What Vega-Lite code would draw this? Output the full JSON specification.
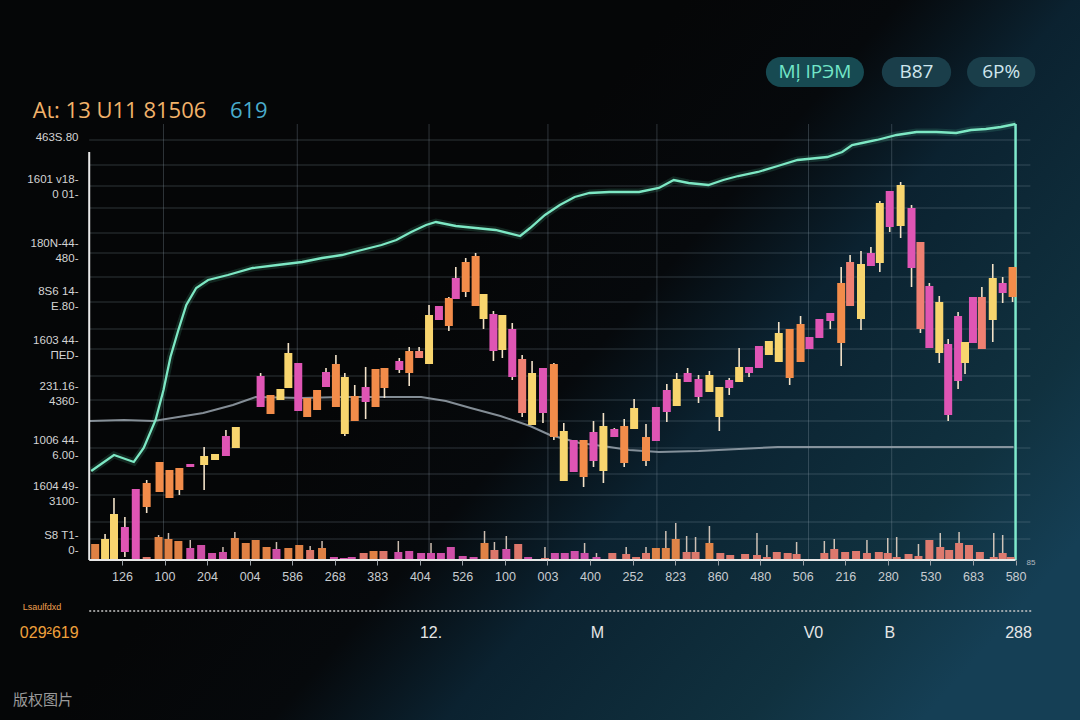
{
  "$schema": "https://vega.github.io/schema/vega-lite/v6.json",
  "width": 1080,
  "height": 720,
  "autosize": "none",
  "padding": 0,
  "background": "#050607",
  "config": {
    "view": {
      "stroke": null,
      "fill": {"gradient": "linear", "x1": 0.4, "y1": 0.4, "x2": 1, "y2": 0.75,
        "stops": [
          {"offset": 0, "color": "#050607"},
          {"offset": 0.25, "color": "#06090c"},
          {"offset": 0.45, "color": "#0b2230"},
          {"offset": 0.8, "color": "#10313f"},
          {"offset": 1, "color": "#153f55"}
        ]}
    },
    "font": "Liberation Sans"
  },
  "datasets": {
    "candles": [
      {"t":1.6,"open":0,"close":21,"high":26,"low":0,"tone":"Y"},
      {"t":2.5,"open":0,"close":46,"high":62,"low":0,"tone":"Y"},
      {"t":3.6,"open":33,"close":8,"high":43,"low":3,"tone":"P"},
      {"t":4.7,"open":71,"close":0,"high":71,"low":0,"tone":"P"},
      {"t":5.8,"open":53,"close":77,"high":80,"low":47,"tone":"O"},
      {"t":7.1,"open":68,"close":98,"high":98,"low":68,"tone":"O"},
      {"t":8.1,"open":62,"close":90,"high":90,"low":62,"tone":"O"},
      {"t":9.1,"open":70,"close":92,"high":92,"low":65,"tone":"O"},
      {"t":10.2,"open":96,"close":93,"high":96,"low":93,"tone":"P"},
      {"t":11.6,"open":95,"close":104,"high":113,"low":70,"tone":"Y"},
      {"t":12.7,"open":100,"close":106,"high":106,"low":100,"tone":"Y"},
      {"t":13.8,"open":124,"close":104,"high":130,"low":104,"tone":"P"},
      {"t":14.8,"open":112,"close":133,"high":133,"low":112,"tone":"Y"},
      {"t":17.3,"open":184,"close":153,"high":187,"low":153,"tone":"P"},
      {"t":18.3,"open":146,"close":165,"high":165,"low":146,"tone":"O"},
      {"t":19.3,"open":160,"close":171,"high":171,"low":160,"tone":"Y"},
      {"t":20.1,"open":172,"close":207,"high":217,"low":172,"tone":"Y"},
      {"t":21.1,"open":197,"close":149,"high":197,"low":149,"tone":"P"},
      {"t":22.0,"open":143,"close":162,"high":162,"low":143,"tone":"O"},
      {"t":23.0,"open":150,"close":170,"high":170,"low":150,"tone":"O"},
      {"t":23.9,"open":188,"close":173,"high":192,"low":173,"tone":"P"},
      {"t":24.9,"open":153,"close":196,"high":205,"low":153,"tone":"O"},
      {"t":25.8,"open":126,"close":183,"high":187,"low":124,"tone":"Y"},
      {"t":26.8,"open":139,"close":164,"high":175,"low":139,"tone":"O"},
      {"t":27.9,"open":173,"close":158,"high":193,"low":141,"tone":"P"},
      {"t":28.9,"open":153,"close":191,"high":191,"low":153,"tone":"O"},
      {"t":29.8,"open":172,"close":192,"high":192,"low":162,"tone":"O"},
      {"t":31.3,"open":199,"close":190,"high":202,"low":187,"tone":"P"},
      {"t":32.3,"open":187,"close":209,"high":213,"low":174,"tone":"O"},
      {"t":33.3,"open":202,"close":209,"high":213,"low":202,"tone":"S"},
      {"t":34.3,"open":196,"close":245,"high":255,"low":196,"tone":"Y"},
      {"t":35.3,"open":254,"close":240,"high":254,"low":240,"tone":"P"},
      {"t":36.3,"open":234,"close":262,"high":263,"low":229,"tone":"O"},
      {"t":37.0,"open":282,"close":261,"high":293,"low":261,"tone":"P"},
      {"t":38.0,"open":268,"close":298,"high":302,"low":263,"tone":"O"},
      {"t":39.0,"open":254,"close":304,"high":307,"low":254,"tone":"O"},
      {"t":39.8,"open":241,"close":266,"high":266,"low":231,"tone":"Y"},
      {"t":40.8,"open":246,"close":209,"high":249,"low":199,"tone":"P"},
      {"t":41.7,"open":210,"close":245,"high":245,"low":202,"tone":"Y"},
      {"t":42.7,"open":231,"close":183,"high":237,"low":180,"tone":"P"},
      {"t":43.7,"open":201,"close":147,"high":205,"low":143,"tone":"S"},
      {"t":44.7,"open":135,"close":187,"high":199,"low":135,"tone":"Y"},
      {"t":45.8,"open":192,"close":147,"high":192,"low":137,"tone":"P"},
      {"t":46.9,"open":123,"close":196,"high":197,"low":120,"tone":"O"},
      {"t":47.9,"open":79,"close":129,"high":137,"low":79,"tone":"Y"},
      {"t":48.9,"open":120,"close":88,"high":120,"low":88,"tone":"P"},
      {"t":49.9,"open":83,"close":120,"high":120,"low":73,"tone":"O"},
      {"t":50.9,"open":128,"close":99,"high":139,"low":93,"tone":"P"},
      {"t":51.9,"open":89,"close":134,"high":147,"low":77,"tone":"Y"},
      {"t":53.0,"open":131,"close":123,"high":132,"low":123,"tone":"P"},
      {"t":54.0,"open":97,"close":134,"high":141,"low":93,"tone":"O"},
      {"t":55.0,"open":131,"close":152,"high":161,"low":131,"tone":"Y"},
      {"t":56.2,"open":99,"close":123,"high":136,"low":94,"tone":"O"},
      {"t":57.2,"open":153,"close":119,"high":153,"low":119,"tone":"P"},
      {"t":58.3,"open":170,"close":148,"high":176,"low":138,"tone":"P"},
      {"t":59.3,"open":154,"close":181,"high":187,"low":154,"tone":"Y"},
      {"t":60.4,"open":187,"close":178,"high":192,"low":178,"tone":"P"},
      {"t":61.5,"open":181,"close":163,"high":185,"low":157,"tone":"P"},
      {"t":62.6,"open":168,"close":185,"high":189,"low":168,"tone":"Y"},
      {"t":63.6,"open":143,"close":173,"high":173,"low":129,"tone":"Y"},
      {"t":64.6,"open":180,"close":172,"high":182,"low":165,"tone":"P"},
      {"t":65.6,"open":178,"close":193,"high":212,"low":178,"tone":"Y"},
      {"t":66.6,"open":193,"close":187,"high":193,"low":183,"tone":"P"},
      {"t":67.6,"open":214,"close":192,"high":214,"low":192,"tone":"P"},
      {"t":68.6,"open":205,"close":219,"high":219,"low":205,"tone":"Y"},
      {"t":69.6,"open":198,"close":227,"high":238,"low":198,"tone":"Y"},
      {"t":70.7,"open":182,"close":231,"high":231,"low":175,"tone":"O"},
      {"t":71.8,"open":198,"close":236,"high":244,"low":198,"tone":"O"},
      {"t":72.7,"open":223,"close":211,"high":223,"low":211,"tone":"P"},
      {"t":73.7,"open":241,"close":222,"high":241,"low":222,"tone":"P"},
      {"t":74.8,"open":247,"close":239,"high":247,"low":231,"tone":"P"},
      {"t":75.9,"open":217,"close":277,"high":293,"low":194,"tone":"O"},
      {"t":76.8,"open":254,"close":298,"high":305,"low":254,"tone":"S"},
      {"t":77.9,"open":241,"close":296,"high":309,"low":230,"tone":"Y"},
      {"t":78.9,"open":307,"close":294,"high":313,"low":294,"tone":"P"},
      {"t":79.8,"open":297,"close":357,"high":359,"low":288,"tone":"Y"},
      {"t":80.8,"open":369,"close":333,"high":369,"low":328,"tone":"P"},
      {"t":81.9,"open":334,"close":375,"high":378,"low":322,"tone":"Y"},
      {"t":83.0,"open":352,"close":292,"high":355,"low":273,"tone":"P"},
      {"t":83.9,"open":318,"close":231,"high":318,"low":227,"tone":"S"},
      {"t":84.8,"open":274,"close":212,"high":277,"low":212,"tone":"P"},
      {"t":85.8,"open":207,"close":258,"high":264,"low":197,"tone":"Y"},
      {"t":86.7,"open":216,"close":145,"high":221,"low":139,"tone":"P"},
      {"t":87.7,"open":179,"close":244,"high":248,"low":171,"tone":"P"},
      {"t":88.4,"open":218,"close":197,"high":218,"low":186,"tone":"Y"},
      {"t":89.2,"open":217,"close":263,"high":263,"low":217,"tone":"P"},
      {"t":90.1,"open":211,"close":263,"high":273,"low":211,"tone":"S"},
      {"t":91.2,"open":240,"close":282,"high":296,"low":218,"tone":"Y"},
      {"t":92.2,"open":277,"close":267,"high":283,"low":257,"tone":"P"},
      {"t":93.2,"open":263,"close":293,"high":293,"low":258,"tone":"O"}
    ],
    "volume": [
      {"t":0.6,"volume":16,"tone":"O"},
      {"t":5.8,"volume":3,"tone":"S"},
      {"t":7.0,"volume":23,"peak":25,"tone":"O"},
      {"t":8.0,"volume":21,"peak":27,"tone":"O"},
      {"t":9.0,"volume":19,"tone":"O"},
      {"t":10.2,"volume":12,"peak":20,"tone":"P"},
      {"t":11.3,"volume":15,"tone":"P"},
      {"t":12.4,"volume":7,"tone":"P"},
      {"t":13.5,"volume":8,"peak":13,"tone":"P"},
      {"t":14.7,"volume":22,"peak":28,"tone":"O"},
      {"t":15.8,"volume":17,"tone":"O"},
      {"t":16.8,"volume":20,"tone":"O"},
      {"t":17.9,"volume":13,"tone":"O"},
      {"t":18.9,"volume":11,"peak":18,"tone":"P"},
      {"t":20.1,"volume":12,"tone":"O"},
      {"t":21.2,"volume":15,"tone":"O"},
      {"t":22.3,"volume":10,"peak":14,"tone":"S"},
      {"t":23.5,"volume":12,"peak":19,"tone":"O"},
      {"t":24.7,"volume":3,"tone":"P"},
      {"t":25.7,"volume":2,"tone":"P"},
      {"t":26.5,"volume":3,"tone":"P"},
      {"t":27.7,"volume":7,"tone":"S"},
      {"t":28.7,"volume":9,"tone":"O"},
      {"t":29.7,"volume":9,"tone":"S"},
      {"t":31.2,"volume":8,"peak":19,"tone":"P"},
      {"t":32.3,"volume":9,"tone":"P"},
      {"t":33.5,"volume":7,"tone":"P"},
      {"t":34.5,"volume":7,"peak":17,"tone":"P"},
      {"t":35.5,"volume":7,"tone":"P"},
      {"t":36.5,"volume":13,"tone":"P"},
      {"t":37.7,"volume":4,"tone":"P"},
      {"t":38.8,"volume":3,"tone":"P"},
      {"t":39.9,"volume":17,"peak":29,"tone":"O"},
      {"t":40.9,"volume":10,"peak":18,"tone":"S"},
      {"t":42.1,"volume":11,"peak":24,"tone":"P"},
      {"t":43.3,"volume":16,"tone":"S"},
      {"t":44.3,"volume":3,"tone":"P"},
      {"t":46.0,"volume":2,"peak":13,"tone":"S"},
      {"t":47.0,"volume":7,"tone":"P"},
      {"t":48.0,"volume":7,"tone":"P"},
      {"t":49.0,"volume":9,"tone":"P"},
      {"t":50.0,"volume":7,"peak":17,"tone":"P"},
      {"t":51.2,"volume":3,"peak":7,"tone":"P"},
      {"t":52.8,"volume":7,"tone":"S"},
      {"t":54.2,"volume":6,"peak":13,"tone":"S"},
      {"t":55.2,"volume":3,"tone":"S"},
      {"t":56.2,"volume":7,"peak":13,"tone":"S"},
      {"t":57.2,"volume":12,"tone":"O"},
      {"t":58.2,"volume":12,"peak":29,"tone":"O"},
      {"t":59.2,"volume":21,"peak":37,"tone":"O"},
      {"t":60.3,"volume":8,"peak":24,"tone":"S"},
      {"t":61.2,"volume":8,"peak":23,"tone":"S"},
      {"t":62.6,"volume":17,"peak":34,"tone":"O"},
      {"t":63.7,"volume":7,"tone":"S"},
      {"t":64.7,"volume":5,"tone":"S"},
      {"t":66.2,"volume":6,"tone":"S"},
      {"t":67.4,"volume":5,"peak":27,"tone":"S"},
      {"t":68.4,"volume":3,"peak":15,"tone":"S"},
      {"t":69.4,"volume":8,"tone":"S"},
      {"t":70.5,"volume":7,"tone":"S"},
      {"t":71.4,"volume":6,"peak":18,"tone":"S"},
      {"t":74.2,"volume":7,"peak":19,"tone":"S"},
      {"t":75.2,"volume":11,"peak":21,"tone":"S"},
      {"t":76.3,"volume":8,"tone":"S"},
      {"t":77.4,"volume":9,"tone":"S"},
      {"t":78.5,"volume":7,"peak":20,"tone":"S"},
      {"t":79.7,"volume":8,"tone":"S"},
      {"t":80.6,"volume":7,"peak":22,"tone":"S"},
      {"t":81.5,"volume":3,"peak":23,"tone":"S"},
      {"t":82.7,"volume":6,"tone":"S"},
      {"t":83.7,"volume":4,"peak":16,"tone":"S"},
      {"t":84.8,"volume":20,"tone":"S"},
      {"t":85.9,"volume":13,"peak":27,"tone":"S"},
      {"t":86.8,"volume":10,"tone":"S"},
      {"t":87.8,"volume":17,"peak":28,"tone":"S"},
      {"t":88.8,"volume":15,"tone":"S"},
      {"t":89.9,"volume":8,"tone":"S"},
      {"t":91.3,"volume":3,"peak":27,"tone":"S"},
      {"t":92.2,"volume":7,"peak":25,"tone":"S"},
      {"t":93.0,"volume":3,"tone":"S"}
    ],
    "trend": [
      {"t":0.2,"v":89},{"t":2.5,"v":105},{"t":4.5,"v":98},{"t":5.5,"v":112},{"t":6.7,"v":140},
      {"t":7.5,"v":170},{"t":8.2,"v":203},{"t":9.0,"v":230},{"t":9.8,"v":255},{"t":10.8,"v":272},
      {"t":12.0,"v":280},{"t":14.0,"v":285},{"t":16.5,"v":292},{"t":19.0,"v":295},{"t":21.5,"v":298},
      {"t":23.5,"v":302},{"t":25.5,"v":305},{"t":27.5,"v":310},{"t":29.5,"v":315},{"t":31.0,"v":320},
      {"t":32.5,"v":328},{"t":34.0,"v":335},{"t":35.0,"v":338},{"t":37.0,"v":334},{"t":39.0,"v":332},
      {"t":41.0,"v":330},{"t":43.5,"v":324},{"t":44.5,"v":332},{"t":46.0,"v":345},{"t":47.5,"v":355},
      {"t":49.0,"v":363},{"t":50.5,"v":367},{"t":52.5,"v":368},{"t":55.5,"v":368},{"t":57.5,"v":372},
      {"t":59.0,"v":380},{"t":60.5,"v":377},{"t":62.5,"v":375},{"t":64.0,"v":380},{"t":65.5,"v":384},
      {"t":67.5,"v":388},{"t":69.5,"v":394},{"t":71.5,"v":400},{"t":74.5,"v":403},{"t":76.0,"v":408},
      {"t":77.0,"v":415},{"t":78.0,"v":417},{"t":79.5,"v":420},{"t":81.5,"v":425},{"t":83.5,"v":428},
      {"t":85.5,"v":428},{"t":87.5,"v":427},{"t":89.0,"v":430},{"t":90.5,"v":431},{"t":92.0,"v":433},
      {"t":93.5,"v":436}
    ],
    "average": [
      {"t":0,"v":139},{"t":3.5,"v":140},{"t":6.5,"v":139},{"t":11.5,"v":147},{"t":14.5,"v":155},
      {"t":16.8,"v":163},{"t":21.5,"v":162},{"t":25.5,"v":163},{"t":29.5,"v":163},{"t":33.5,"v":163},
      {"t":36.0,"v":159},{"t":38.5,"v":152},{"t":41.5,"v":144},{"t":44.5,"v":134},{"t":46.5,"v":125},
      {"t":49.5,"v":117},{"t":52.5,"v":113},{"t":54.5,"v":110},{"t":57.5,"v":108},{"t":61.5,"v":109},
      {"t":69.5,"v":113},{"t":76.5,"v":113},{"t":81.5,"v":113},{"t":93.3,"v":113}
    ],
    "hgrid": [
      {"level":420},{"level":395},{"level":374},{"level":352},{"level":327},{"level":307},
      {"level":283},{"level":258},{"level":231},{"level":211},{"level":184},{"level":160},
      {"level":139},{"level":112},{"level":86},{"level":65},{"level":38},{"level":21}
    ],
    "vgrid": [
      {"at":7.5},{"at":21},{"at":34.3},{"at":46.3},{"at":57.3},{"at":72.6},{"at":81}
    ]
  },
  "layer": [
    {
      "data": {"name": "hgrid"},
      "mark": {"type": "rule", "color": "#8fa0ab", "opacity": 0.3, "strokeWidth": 1},
      "encoding": {
        "x": {"datum": 0, "type": "quantitative", "scale": {"domain": [-8.5, 99.5], "nice": false, "zero": false},
          "axis": {"orient": "bottom", "offset": -160, "zindex": 2, "title": null, "domain": false, "grid": false,
            "ticks": true, "tickSize": 5, "tickColor": "#9aa0a6", "tickWidth": 1,
            "values": [3.3, 7.6, 11.89, 16.19, 20.48, 24.78, 29.07, 33.37, 37.66, 41.96, 46.25, 50.55, 54.84, 59.14, 63.43, 67.73, 72.02, 76.32, 80.61, 84.91, 89.2, 93.5],
            "labelExpr": "['126','100','204','004','586','268','383','404','526','100','003','400','252','823','860','480','506','216','280','530','683','580'][round((datum.value - 3.3) / 4.295)]",
            "labelColor": "#c8ccd0", "labelFontSize": 12.5, "labelPadding": 5, "labelOverlap": false, "labelFlush": false, "labelBound": false}},
        "x2": {"datum": 95},
        "y": {"field": "level", "type": "quantitative", "scale": {"domain": [-160, 560], "nice": false, "zero": false},
          "axis": {"orient": "left", "offset": -85, "zindex": 2, "title": null, "domain": false, "grid": false, "ticks": false,
            "values": [25, 74, 120, 174, 220, 269, 317, 381, 423],
            "labelExpr": "datum.value == 423 ? '463S.80' : datum.value == 381 ? ['1601 v18-', '0 01-'] : datum.value == 317 ? ['180N-44-', '480-'] : datum.value == 269 ? ['8S6 14-', 'E.80-'] : datum.value == 220 ? ['1603 44-', 'ПЕD-'] : datum.value == 174 ? ['231.16-', '4360-'] : datum.value == 120 ? ['1006 44-', '6.00-'] : datum.value == 74 ? ['1604 49-', '3100-'] : ['S8 T1-', '0-']",
            "labelColor": "#d4d4d4", "labelFontSize": 11.5, "labelPadding": 7, "labelLineHeight": 15, "labelOverlap": false, "labelBound": false, "labelFlush": false}}
      }
    },
    {
      "data": {"name": "vgrid"},
      "mark": {"type": "rule", "color": "#8fa0ab", "opacity": 0.3, "strokeWidth": 1},
      "encoding": {
        "x": {"field": "at", "type": "quantitative", "scale": {"domain": [-8.5, 99.5], "nice": false, "zero": false}},
        "y": {"datum": 0, "type": "quantitative", "scale": {"domain": [-160, 560], "nice": false, "zero": false}},
        "y2": {"datum": 436}
      }
    },
    {
      "data": {"name": "average"},
      "mark": {"type": "line", "color": "#9aa5ae", "strokeWidth": 2, "opacity": 0.85},
      "encoding": {
        "x": {"field": "t", "type": "quantitative", "scale": {"domain": [-8.5, 99.5], "nice": false, "zero": false}},
        "y": {"field": "v", "type": "quantitative", "scale": {"domain": [-160, 560], "nice": false, "zero": false}}
      }
    },
    {
      "data": {"name": "trend"},
      "mark": {"type": "line", "color": "#5fe0b0", "strokeWidth": 7, "opacity": 0.15},
      "encoding": {
        "x": {"field": "t", "type": "quantitative", "scale": {"domain": [-8.5, 99.5], "nice": false, "zero": false}},
        "y": {"field": "v", "type": "quantitative", "scale": {"domain": [-160, 560], "nice": false, "zero": false}}
      }
    },
    {
      "data": {"name": "trend"},
      "mark": {"type": "line", "color": "#7de8c4", "strokeWidth": 2.3},
      "encoding": {
        "x": {"field": "t", "type": "quantitative", "scale": {"domain": [-8.5, 99.5], "nice": false, "zero": false}},
        "y": {"field": "v", "type": "quantitative", "scale": {"domain": [-160, 560], "nice": false, "zero": false}}
      }
    },
    {
      "data": {"values": [{}]},
      "mark": {"type": "rule", "color": "#7fe9cc", "strokeWidth": 2.5},
      "encoding": {
        "x": {"datum": 93.5, "type": "quantitative", "scale": {"domain": [-8.5, 99.5], "nice": false, "zero": false}},
        "y": {"datum": 0, "type": "quantitative", "scale": {"domain": [-160, 560], "nice": false, "zero": false}},
        "y2": {"datum": 436}
      }
    },
    {
      "data": {"name": "volume"},
      "transform": [{"filter": "isValid(datum.peak)"}],
      "mark": {"type": "rule", "color": "#f0dccb", "strokeWidth": 1.5, "opacity": 0.85},
      "encoding": {
        "x": {"field": "t", "type": "quantitative", "scale": {"domain": [-8.5, 99.5], "nice": false, "zero": false}},
        "y": {"field": "peak", "type": "quantitative", "scale": {"domain": [-160, 560], "nice": false, "zero": false}},
        "y2": {"field": "volume"}
      }
    },
    {
      "data": {"name": "volume"},
      "mark": {"type": "bar", "size": 8, "opacity": 0.92},
      "encoding": {
        "x": {"field": "t", "type": "quantitative", "scale": {"domain": [-8.5, 99.5], "nice": false, "zero": false}},
        "y": {"field": "volume", "type": "quantitative", "scale": {"domain": [-160, 560], "nice": false, "zero": false}},
        "y2": {"datum": 0},
        "color": {"field": "tone", "type": "nominal", "scale": {"domain": ["Y", "O", "P", "S"], "range": ["#f8d56e", "#f28c4a", "#df55b4", "#ef8072"]}, "legend": null}
      }
    },
    {
      "data": {"name": "candles"},
      "mark": {"type": "rule", "color": "#f3e2c8", "strokeWidth": 1.6},
      "encoding": {
        "x": {"field": "t", "type": "quantitative", "scale": {"domain": [-8.5, 99.5], "nice": false, "zero": false}},
        "y": {"field": "low", "type": "quantitative", "scale": {"domain": [-160, 560], "nice": false, "zero": false}},
        "y2": {"field": "high"}
      }
    },
    {
      "data": {"name": "candles"},
      "mark": {"type": "bar", "size": 8},
      "encoding": {
        "x": {"field": "t", "type": "quantitative", "scale": {"domain": [-8.5, 99.5], "nice": false, "zero": false}},
        "y": {"field": "close", "type": "quantitative", "scale": {"domain": [-160, 560], "nice": false, "zero": false}},
        "y2": {"field": "open"},
        "color": {"field": "tone", "type": "nominal", "scale": {"domain": ["Y", "O", "P", "S"], "range": ["#f8d56e", "#f28c4a", "#df55b4", "#ef8072"]}, "legend": null}
      }
    },
    {
      "data": {"values": [{}]},
      "mark": {"type": "rule", "color": "#e8e8e8", "strokeWidth": 2},
      "encoding": {
        "x": {"datum": 0, "type": "quantitative", "scale": {"domain": [-8.5, 99.5], "nice": false, "zero": false}},
        "y": {"datum": 0, "type": "quantitative", "scale": {"domain": [-160, 560], "nice": false, "zero": false}},
        "y2": {"datum": 408}
      }
    },
    {
      "data": {"values": [{}]},
      "mark": {"type": "rule", "color": "#e8e8e8", "strokeWidth": 2},
      "encoding": {
        "x": {"datum": 0, "type": "quantitative", "scale": {"domain": [-8.5, 99.5], "nice": false, "zero": false}},
        "x2": {"datum": 93.5},
        "y": {"datum": 0, "type": "quantitative", "scale": {"domain": [-160, 560], "nice": false, "zero": false}}
      }
    },
    {
      "data": {"values": [{}]},
      "mark": {"type": "rule", "color": "#c8c8c8", "strokeWidth": 1.5, "strokeDash": [2, 2]},
      "encoding": {
        "x": {"datum": 0, "type": "quantitative", "scale": {"domain": [-8.5, 99.5], "nice": false, "zero": false}},
        "x2": {"datum": 95.2},
        "y": {"datum": -51, "type": "quantitative", "scale": {"domain": [-160, 560], "nice": false, "zero": false}}
      }
    },
    {
      "data": {"values": [{}]},
      "mark": {"type": "rect", "color": "#174a52", "cornerRadius": 15},
      "encoding": {
        "x": {"datum": 68.3, "type": "quantitative", "scale": {"domain": [-8.5, 99.5], "nice": false, "zero": false}},
        "x2": {"datum": 78.2},
        "y": {"datum": 473, "type": "quantitative", "scale": {"domain": [-160, 560], "nice": false, "zero": false}},
        "y2": {"datum": 503}
      }
    },
    {
      "data": {"values": [{}]},
      "mark": {"type": "rect", "color": "#1a3e4a", "cornerRadius": 15},
      "encoding": {
        "x": {"datum": 80, "type": "quantitative", "scale": {"domain": [-8.5, 99.5], "nice": false, "zero": false}},
        "x2": {"datum": 87},
        "y": {"datum": 473, "type": "quantitative", "scale": {"domain": [-160, 560], "nice": false, "zero": false}},
        "y2": {"datum": 503}
      }
    },
    {
      "data": {"values": [{}]},
      "mark": {"type": "rect", "color": "#1a3e4a", "cornerRadius": 15},
      "encoding": {
        "x": {"datum": 88.6, "type": "quantitative", "scale": {"domain": [-8.5, 99.5], "nice": false, "zero": false}},
        "x2": {"datum": 95.5},
        "y": {"datum": 473, "type": "quantitative", "scale": {"domain": [-160, 560], "nice": false, "zero": false}},
        "y2": {"datum": 503}
      }
    },
    {
      "data": {"values": [{}]},
      "mark": {"type": "text", "text": "Mļ IPЭM", "font": "Open Sans", "fontSize": 19, "color": "#72e6c8", "align": "center", "baseline": "middle"},
      "encoding": {
        "x": {"datum": 73.25, "type": "quantitative", "scale": {"domain": [-8.5, 99.5], "nice": false, "zero": false}},
        "y": {"datum": 488, "type": "quantitative", "scale": {"domain": [-160, 560], "nice": false, "zero": false}}
      }
    },
    {
      "data": {"values": [{}]},
      "mark": {"type": "text", "text": "B87", "font": "Open Sans", "fontSize": 19, "color": "#cfe6ee", "align": "center", "baseline": "middle"},
      "encoding": {
        "x": {"datum": 83.5, "type": "quantitative", "scale": {"domain": [-8.5, 99.5], "nice": false, "zero": false}},
        "y": {"datum": 488, "type": "quantitative", "scale": {"domain": [-160, 560], "nice": false, "zero": false}}
      }
    },
    {
      "data": {"values": [{}]},
      "mark": {"type": "text", "text": "6P%", "font": "Open Sans", "fontSize": 19, "color": "#cfe6ee", "align": "center", "baseline": "middle"},
      "encoding": {
        "x": {"datum": 92.05, "type": "quantitative", "scale": {"domain": [-8.5, 99.5], "nice": false, "zero": false}},
        "y": {"datum": 488, "type": "quantitative", "scale": {"domain": [-160, 560], "nice": false, "zero": false}}
      }
    },
    {
      "data": {"values": [{}]},
      "mark": {"type": "text", "text": "Aι: 13 U11 81506", "font": "Open Sans", "fontSize": 22, "color": "#f2b26a", "align": "left", "baseline": "middle"},
      "encoding": {
        "x": {"datum": -5.7, "type": "quantitative", "scale": {"domain": [-8.5, 99.5], "nice": false, "zero": false}},
        "y": {"datum": 449, "type": "quantitative", "scale": {"domain": [-160, 560], "nice": false, "zero": false}}
      }
    },
    {
      "data": {"values": [{}]},
      "mark": {"type": "text", "text": "619", "font": "Open Sans", "fontSize": 22, "color": "#4aaccc", "align": "left", "baseline": "middle"},
      "encoding": {
        "x": {"datum": 14.2, "type": "quantitative", "scale": {"domain": [-8.5, 99.5], "nice": false, "zero": false}},
        "y": {"datum": 449, "type": "quantitative", "scale": {"domain": [-160, 560], "nice": false, "zero": false}}
      }
    },
    {
      "data": {"values": [{}]},
      "mark": {"type": "text", "text": "Lsaulfdxd", "fontSize": 9, "color": "#f0a050", "align": "left", "baseline": "middle"},
      "encoding": {
        "x": {"datum": -6.7, "type": "quantitative", "scale": {"domain": [-8.5, 99.5], "nice": false, "zero": false}},
        "y": {"datum": -47, "type": "quantitative", "scale": {"domain": [-160, 560], "nice": false, "zero": false}}
      }
    },
    {
      "data": {"values": [{}]},
      "mark": {"type": "text", "text": "029²619", "fontSize": 16, "color": "#f0a03c", "align": "left", "baseline": "middle"},
      "encoding": {
        "x": {"datum": -7, "type": "quantitative", "scale": {"domain": [-8.5, 99.5], "nice": false, "zero": false}},
        "y": {"datum": -73, "type": "quantitative", "scale": {"domain": [-160, 560], "nice": false, "zero": false}}
      }
    },
    {
      "data": {"values": [{}]},
      "mark": {"type": "text", "text": "12.", "fontSize": 16, "color": "#e6e6e6", "align": "center", "baseline": "middle"},
      "encoding": {
        "x": {"datum": 34.5, "type": "quantitative", "scale": {"domain": [-8.5, 99.5], "nice": false, "zero": false}},
        "y": {"datum": -73, "type": "quantitative", "scale": {"domain": [-160, 560], "nice": false, "zero": false}}
      }
    },
    {
      "data": {"values": [{}]},
      "mark": {"type": "text", "text": "M", "fontSize": 16, "color": "#e6e6e6", "align": "center", "baseline": "middle"},
      "encoding": {
        "x": {"datum": 51.3, "type": "quantitative", "scale": {"domain": [-8.5, 99.5], "nice": false, "zero": false}},
        "y": {"datum": -73, "type": "quantitative", "scale": {"domain": [-160, 560], "nice": false, "zero": false}}
      }
    },
    {
      "data": {"values": [{}]},
      "mark": {"type": "text", "text": "V0", "fontSize": 16, "color": "#e6e6e6", "align": "center", "baseline": "middle"},
      "encoding": {
        "x": {"datum": 73.1, "type": "quantitative", "scale": {"domain": [-8.5, 99.5], "nice": false, "zero": false}},
        "y": {"datum": -73, "type": "quantitative", "scale": {"domain": [-160, 560], "nice": false, "zero": false}}
      }
    },
    {
      "data": {"values": [{}]},
      "mark": {"type": "text", "text": "B", "fontSize": 16, "color": "#e6e6e6", "align": "center", "baseline": "middle"},
      "encoding": {
        "x": {"datum": 80.8, "type": "quantitative", "scale": {"domain": [-8.5, 99.5], "nice": false, "zero": false}},
        "y": {"datum": -73, "type": "quantitative", "scale": {"domain": [-160, 560], "nice": false, "zero": false}}
      }
    },
    {
      "data": {"values": [{}]},
      "mark": {"type": "text", "text": "288", "fontSize": 16, "color": "#e6e6e6", "align": "center", "baseline": "middle"},
      "encoding": {
        "x": {"datum": 93.8, "type": "quantitative", "scale": {"domain": [-8.5, 99.5], "nice": false, "zero": false}},
        "y": {"datum": -73, "type": "quantitative", "scale": {"domain": [-160, 560], "nice": false, "zero": false}}
      }
    },
    {
      "data": {"values": [{}]},
      "mark": {"type": "text", "text": "85", "fontSize": 8, "color": "#b0b8bf", "align": "left", "baseline": "middle"},
      "encoding": {
        "x": {"datum": 94.6, "type": "quantitative", "scale": {"domain": [-8.5, 99.5], "nice": false, "zero": false}},
        "y": {"datum": -3, "type": "quantitative", "scale": {"domain": [-160, 560], "nice": false, "zero": false}}
      }
    },
    {
      "data": {"values": [{}]},
      "mark": {"type": "text", "text": "版权图片", "font": "Noto Sans CJK SC", "fontSize": 15, "color": "#9a9a9a", "align": "left", "baseline": "middle"},
      "encoding": {
        "x": {"datum": -7.7, "type": "quantitative", "scale": {"domain": [-8.5, 99.5], "nice": false, "zero": false}},
        "y": {"datum": -140, "type": "quantitative", "scale": {"domain": [-160, 560], "nice": false, "zero": false}}
      }
    }
  ]
}
